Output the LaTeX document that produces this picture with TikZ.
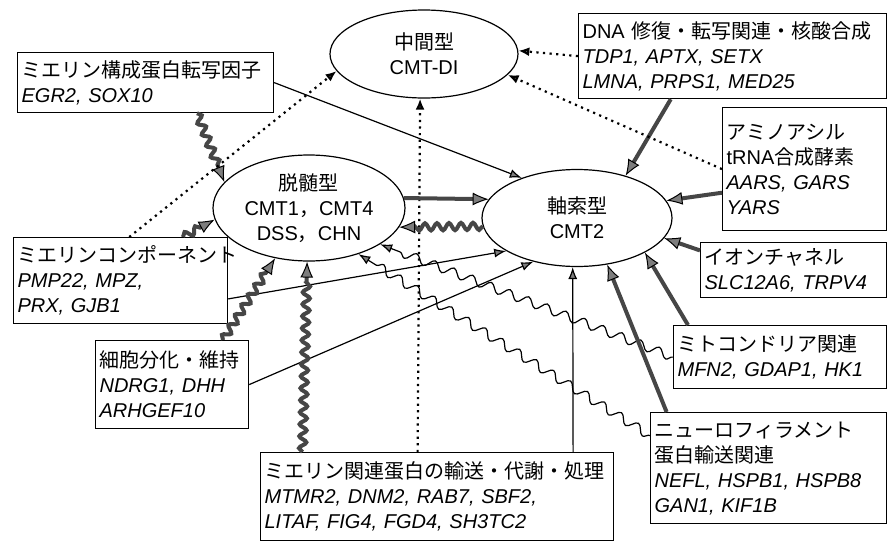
\documentclass[tikz,border=0pt]{standalone}
\usepackage{fontspec}
\setmainfont{Liberation Sans}
\newfontfamily\jfont{Noto Sans CJK JP}
\newcommand{\jt}[1]{{\jfont #1}}
\usepackage{tikz}
\usetikzlibrary{arrows.meta,shapes.geometric,decorations.pathmorphing,calc}
\definecolor{headgray}{RGB}{125,125,125}
\definecolor{linegray}{RGB}{70,70,70}

\tikzset{
  typ/.style={ellipse, draw, line width=0.6pt, align=center, inner sep=0pt},
  genebox/.style={draw, line width=0.6pt, anchor=north west, align=left, inner xsep=2pt, inner ysep=1pt},
  thin link/.style={line width=0.6pt, -{Latex[length=6pt,width=4.5pt,color=black,fill=headgray]}},
  heavy/.style={line width=2pt, draw=linegray, -{Latex[length=8pt,width=6.5pt,color=black,fill=headgray,line width=0.5pt]}},
  dots/.style={line width=1.1pt, dash pattern=on 1.1pt off 2.2pt, -{Latex[length=5.5pt,width=4.5pt,color=black,fill=headgray]}},
  wave/.style={decorate, decoration={snake, amplitude=1.8pt, segment length=6pt, post length=8pt}},
  long wave/.style={decorate, decoration={snake, amplitude=2.2pt, segment length=10pt, post length=8pt}},
}

\begin{document}
\begin{tikzpicture}[x=0.5pt, y=-0.5pt, font=\fontsize{10pt}{12.5pt}\selectfont]
\useasboundingbox (0,0) rectangle (891,542);

% the three CMT types
\node[typ, minimum width=94pt, minimum height=44pt] (di) at (424,54) {\jt{中間型}\\CMT-DI};
\node[typ, minimum width=96pt, minimum height=53pt] (demy) at (309,208) {\jt{脱髄型}\\CMT1\jt{，}CMT4\\DSS\jt{，}CHN};
\node[typ, minimum width=95pt, minimum height=48.5pt] (axon) at (577,218) {\jt{軸索型}\\CMT2};

% gene groups
\node[genebox, text width=124pt, minimum height=30pt] (tf) at (17,52) {\jt{ミエリン構成蛋白転写因子}\\ \itshape EGR2, SOX10};
\node[genebox, text width=150pt, minimum height=42.5pt] (dna) at (578,13) {DNA \jt{修復・転写関連・核酸合成}\\ \itshape TDP1, APTX, SETX\\ LMNA, PRPS1, MED25};
\node[genebox, text width=78pt, minimum height=61.5pt] (trna) at (722,107) {\jt{アミノアシル}\\ tRNA\jt{合成酵素}\\ \itshape AARS, GARS\\ YARS};
\node[genebox, text width=89pt, minimum height=27.5pt] (ion) at (700,242) {\jt{イオンチャネル}\\ \itshape SLC12A6, TRPV4};
\node[genebox, text width=103pt, minimum height=43pt] (comp) at (13,237) {\jt{ミエリンコンポーネント}\\ \itshape PMP22, MPZ,\\ PRX, GJB1};
\node[genebox, text width=72.5pt, minimum height=44pt] (diff) at (95,340) {\jt{細胞分化・維持}\\ \itshape NDRG1, DHH\\ ARHGEF10};
\node[genebox, text width=172.5pt, minimum height=44pt] (traf) at (260,452) {\jt{ミエリン関連蛋白の輸送・代謝・処理}\\ \itshape MTMR2, DNM2, RAB7, SBF2,\\ LITAF, FIG4, FGD4, SH3TC2};
\node[genebox, text width=102.5pt, minimum height=31.5pt] (mito) at (673,325) {\jt{ミトコンドリア関連}\\ \itshape MFN2, GDAP1, HK1};
\node[genebox, text width=114pt, minimum height=55.5pt] (nf) at (650,412) {\jt{ニューロフィラメント}\\ \jt{蛋白輸送関連}\\ \itshape NEFL, HSPB1, HSPB8\\ GAN1, KIF1B};

% myelin transcription factors
\draw[thin link] (tf.east) -- (axon.144);
\draw[heavy, wave] ($(tf.south west)!0.7!(tf.south east)$) -- (demy.163);

% myelin components
\draw[dots] ($(comp.north west)!0.54!(comp.north east)$) -- (di.191);
\draw[heavy, wave] ($(comp.north west)!0.79!(comp.north east)$) -- (demy.187);
\draw[thin link] ($(comp.north east)!0.71!(comp.south east)$) -- (axon.205);

% differentiation
\draw[heavy, wave] ($(diff.north west)!0.83!(diff.north east)$) -- (demy.236);
\draw[thin link] (diff.east) -- (axon.225);

% protein traffic
\draw[heavy, wave] ($(traf.north west)!0.12!(traf.north east)$) -- (demy.268);
\draw[dots] ($(traf.north west)!0.445!(traf.north east)$) -- (di.265);
\draw[thin link] ($(traf.north west)!0.884!(traf.north east)$) -- (axon.265);

% DNA repair
\draw[dots] (dna.west) -- (di.2);
\draw[heavy] ($(dna.south west)!0.3!(dna.south east)$) -- (axon.41);

% aminoacyl tRNA
\draw[dots] (trna.west) -- (di.346);
\draw[heavy] ($(trna.north west)!0.69!(trna.south west)$) -- (axon.11);

% ion channel
\draw[heavy] ($(ion.north west)!0.15!(ion.south west)$) -- (axon.347);

% mitochondria
\draw[heavy] ($(mito.north west)!0.07!(mito.north east)$) -- (axon.333);
\draw[thin link, long wave] (mito.west) -- (demy.333);

% neurofilament
\draw[heavy] ($(nf.north west)!0.07!(nf.north east)$) -- (axon.303);
\draw[thin link, long wave] ($(nf.north west)!0.21!(nf.south west)$) -- (demy.317);

% demyelinating <-> axonal
\draw[heavy] (demy.6) -- (axon.168);
\draw[heavy, wave] (axon.185) -- (demy.348);
\end{tikzpicture}
\end{document}
